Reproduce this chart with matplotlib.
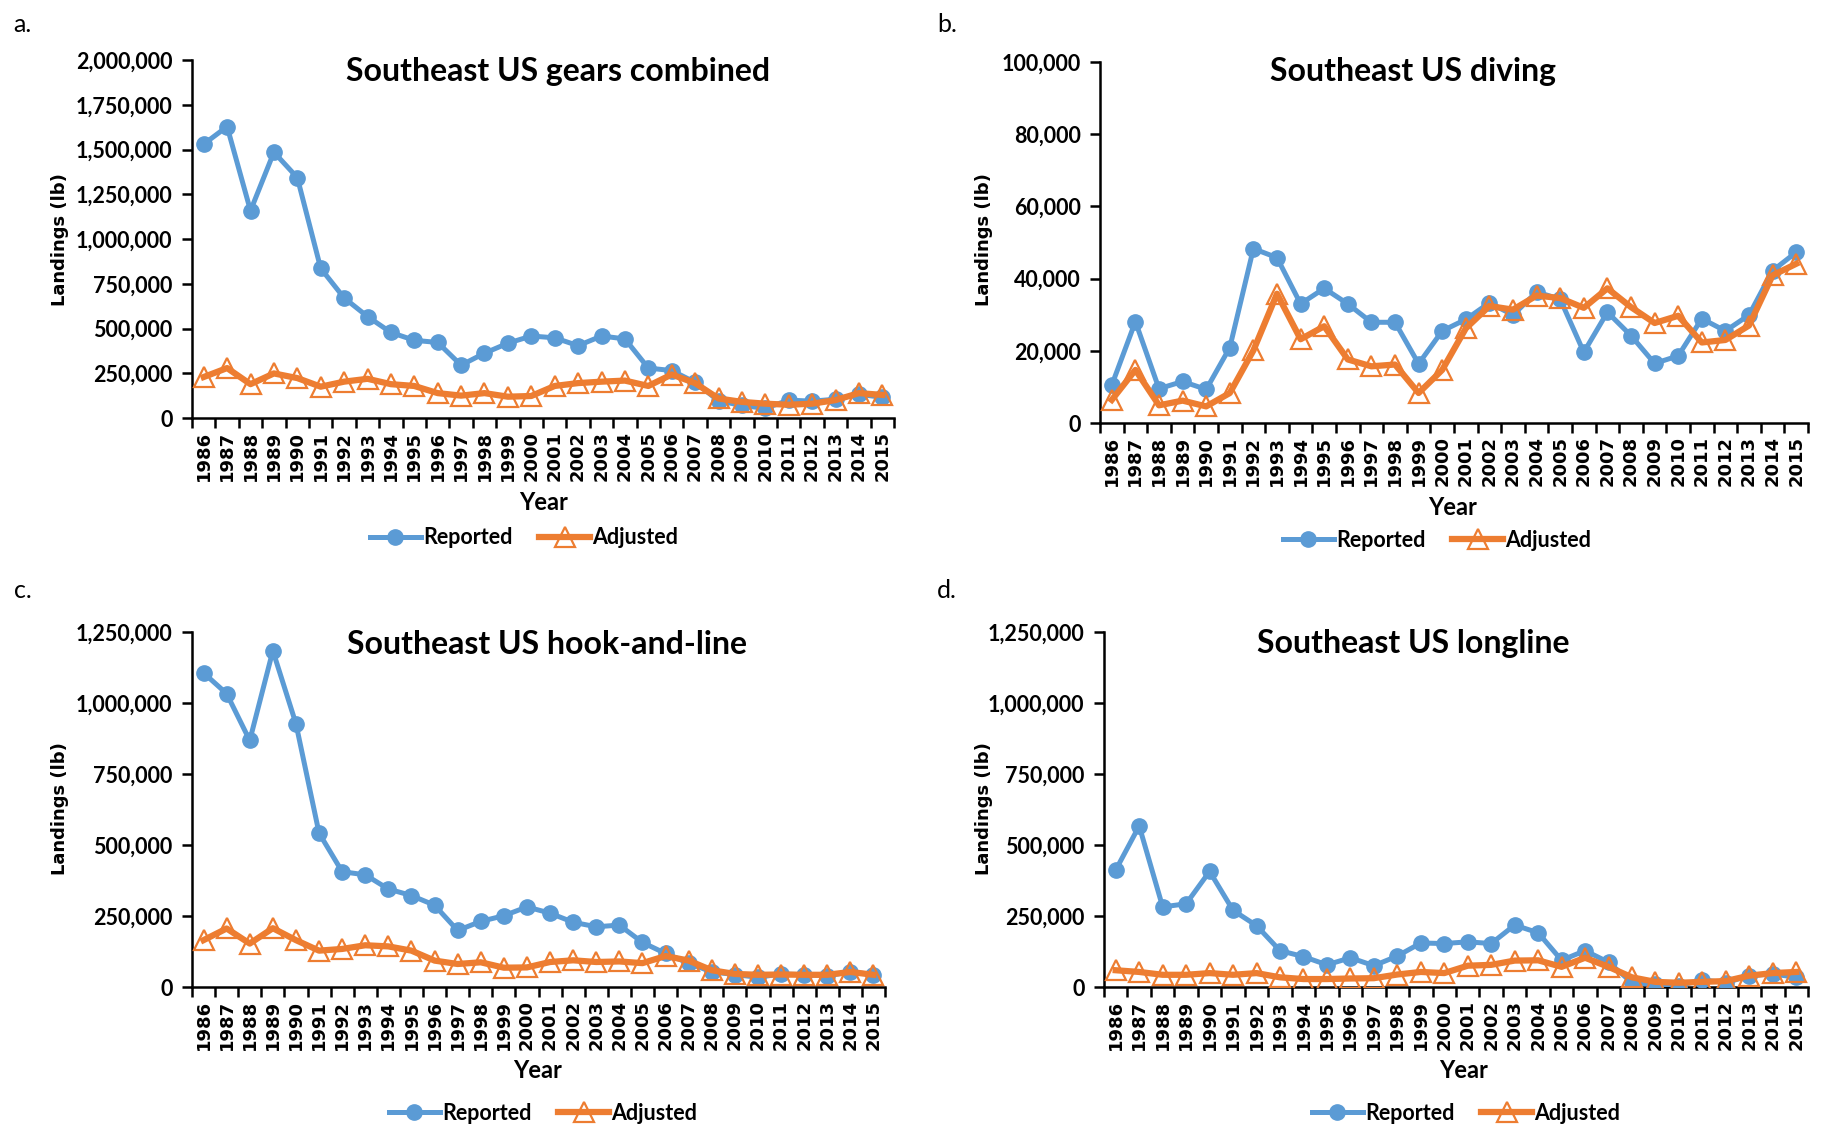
import matplotlib
matplotlib.use('Agg')
import matplotlib.pyplot as plt
from matplotlib.ticker import FuncFormatter, FixedLocator

# 数据
years = list(range(1986, 2016))

gears_reported = [1530000, 1628000, 1158000, 1485000, 1343000, 836000, 671000, 567000, 478000, 434000,
                  422000, 295000, 362000, 418000, 458000, 448000, 404000, 458000, 442000, 279000,
                  265000, 199000, 96000, 70000, 54000, 100000, 94000, 105000, 133000, 115000]
gears_adjusted = [229000, 279000, 189000, 249000, 223000, 175000, 203000, 219000, 189000, 179000,
                  139000, 125000, 139000, 119000, 123000, 179000, 195000, 203000, 209000, 179000,
                  243000, 195000, 109000, 90000, 80000, 74000, 80000, 100000, 139000, 129000]

diving_reported = [10500, 28100, 9500, 11500, 9300, 20900, 48300, 45800, 33000, 37300,
                   33000, 27900, 27900, 16400, 25500, 28700, 33300, 29900, 36300, 34300,
                   19600, 30700, 24200, 16500, 18600, 28900, 25500, 29900, 42200, 47300]
diving_adjusted = [6400, 14700, 4900, 6200, 4600, 8300, 20100, 35800, 23200, 26800,
                   17600, 15700, 16200, 8300, 14700, 26200, 32400, 31400, 35300, 34600,
                   31900, 37300, 32100, 27700, 29700, 22300, 23000, 27000, 40900, 44100]

hook_reported = [1106000, 1033000, 868000, 1184000, 927000, 542000, 406000, 395000, 345000, 322000,
                 288000, 199000, 231000, 251000, 282000, 260000, 228000, 212000, 218000, 157000,
                 118000, 84000, 53000, 44000, 34000, 46000, 43000, 40000, 53000, 44000]
hook_adjusted = [165000, 206000, 153000, 207000, 165000, 128000, 134000, 147000, 143000, 128000,
                 93000, 81000, 87000, 68000, 69000, 88000, 94000, 88000, 90000, 84000,
                 109000, 93000, 59000, 46000, 43000, 44000, 43000, 43000, 53000, 43000]

longline_reported = [412000, 567000, 282000, 293000, 407000, 270000, 216000, 128000, 107000, 78000,
                     103000, 75000, 109000, 155000, 153000, 159000, 153000, 218000, 191000, 94000,
                     128000, 87000, 15000, 9000, 5000, 25000, 15000, 40000, 46000, 34000]
longline_adjusted = [59000, 53000, 43000, 43000, 49000, 43000, 49000, 34000, 28000, 28000,
                     30000, 31000, 44000, 53000, 49000, 75000, 78000, 93000, 94000, 71000,
                     103000, 71000, 34000, 18000, 15000, 18000, 21000, 40000, 49000, 53000]

W, H = 1822, 1128
fig = plt.figure(figsize=(W / 100, H / 100), dpi=100)

BLUE = '#5B9BD5'
ORANGE = '#ED7D31'
CAL = ['Lato', 'DejaVu Sans']

panels = [
    # label, title, reported, adjusted, ymax, ystep, axes box (px), title pos, label pos, year pos, legend pos, ylabel pos
    ('a.', 'Southeast US gears combined', gears_reported, gears_adjusted, 2000000, 250000,
     (192, 894, 60, 418), (558, 71), (13, 24), (544, 502), (524, 538), (60, 240)),
    ('b.', 'Southeast US diving', diving_reported, diving_adjusted, 100000, 20000,
     (1100, 1808, 62, 423), (1413, 71), (937, 24), (1453, 507), (1437, 540), (984, 240)),
    ('c.', 'Southeast US hook-and-line', hook_reported, hook_adjusted, 1250000, 250000,
     (192, 885, 632, 987), (547, 644), (14, 590), (538, 1070), (543, 1113), (60, 809)),
    ('d.', 'Southeast US longline', longline_reported, longline_adjusted, 1250000, 250000,
     (1104, 1808, 632, 987), (1413, 644), (937, 590), (1464, 1070), (1466, 1113), (984, 809)),
]

x = list(range(len(years)))

for lab, title, rep, adj, ymax, ystep, box, tpos, lpos, ypos, legpos, ylpos in panels:
    l, r, t, b = box
    ax = fig.add_axes([l / W, 1 - b / H, (r - l) / W, (b - t) / H])
    ax.plot(x, rep, color=BLUE, lw=3.6, marker='o', ms=11, label='Reported', zorder=3)
    ax.plot(x, adj, color=ORANGE, lw=4.5, marker='^', ms=14.5, mfc='none', mec=ORANGE, mew=1.6,
            label='Adjusted', zorder=4)
    ax.set_xlim(-0.5, len(years) - 0.5)
    ax.set_ylim(0, ymax)
    ax.set_yticks(list(range(0, ymax + 1, ystep)))
    ax.yaxis.set_major_formatter(FuncFormatter(lambda v, p: '{:,}'.format(int(v))))
    ax.set_xticks(x)
    ax.set_xticklabels([str(y) for y in years], rotation=90, fontsize=13,
                       fontweight='bold', family='DejaVu Sans')
    ax.xaxis.set_minor_locator(FixedLocator([i - 0.5 for i in range(len(years) + 1)]))
    ax.tick_params(axis='x', which='major', length=0, pad=9)
    ax.tick_params(axis='x', which='minor', length=7, width=1.8)
    ax.tick_params(axis='y', length=7, width=1.8, pad=7)
    for tl in ax.get_yticklabels():
        tl.set_fontfamily(CAL)
        tl.set_fontweight('bold')
        tl.set_fontsize(15.5)
    for s in ['top', 'right']:
        ax.spines[s].set_visible(False)
    for s in ['left', 'bottom']:
        ax.spines[s].set_linewidth(1.8)
    ax.patch.set_alpha(0)

    fig.text(tpos[0] / W, 1 - tpos[1] / H, title, ha='center', va='center',
             fontsize=23, fontweight='bold', family=CAL)
    fig.text(lpos[0] / W, 1 - lpos[1] / H, lab, ha='left', va='center', fontsize=18, family=CAL)
    fig.text(ypos[0] / W, 1 - ypos[1] / H, 'Year', ha='center', va='center',
             fontsize=17, fontweight='bold', family=CAL)
    fig.text(ylpos[0] / W, 1 - ylpos[1] / H, 'Landings (lb)', ha='center', va='center',
             rotation=90, fontsize=13, fontweight='bold', family='DejaVu Sans')
    ax.legend(loc='center', bbox_to_anchor=(legpos[0] / W, 1 - legpos[1] / H),
              bbox_transform=fig.transFigure, ncol=2, frameon=False,
              prop={'family': CAL, 'weight': 'bold', 'size': 15.5},
              handlelength=2.4, handletextpad=0.1, columnspacing=1.2)

plt.savefig('out.png', dpi=100)
